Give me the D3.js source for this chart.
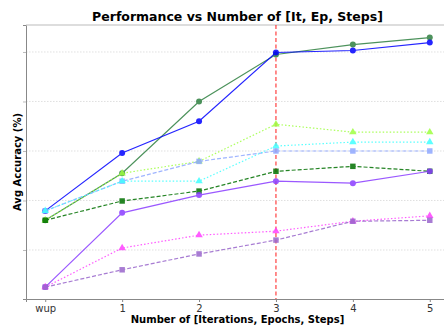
<!DOCTYPE html>
<html>
<head>
  <meta charset="utf-8">
  <script src="https://cdn.jsdelivr.net/npm/d3@7"></script>
  <style>
    body { margin: 0; background: #fff; }
    text { font-family: "DejaVu Sans", sans-serif; }
  </style>
</head>
<body>
<script>
// x categories
const steps = ["wup", "1", "2", "3", "4", "5"];

// series values (avg accuracy)
const blueSolid     = [37.9, 49.6, 56.0, 69.9, 70.3, 71.9];
const greenSolid    = [36.0, 45.5, 60.0, 69.5, 71.5, 72.9];
const limeDotted    = [36.0, 45.5, 47.9, 55.4, 53.8, 53.8];
const cornflowerDsh = [37.9, 43.9, 47.9, 50.0, 50.0, 50.0];
const cyanDotted    = [37.9, 43.9, 43.9, 51.0, 51.8, 51.8];
const darkGreenDsh  = [36.0, 39.9, 41.9, 45.9, 46.9, 45.9];
const purpleSolid   = [22.5, 37.5, 41.1, 43.9, 43.5, 45.9];
const magentaDotted = [22.5, 30.4, 33.0, 33.8, 35.8, 36.9];
const mpurpleDsh    = [22.5, 26.0, 29.2, 32.0, 35.8, 36.0];

const gridValues = [30, 40, 50, 60, 70];

const series = [
  { values: greenSolid,    color: "#2e8040", dash: null,    marker: "circle" },
  { values: blueSolid,     color: "#0000ff", dash: null,    marker: "circle" },
  { values: limeDotted,    color: "#9eff40", dash: "1.5,2", marker: "triangle" },
  { values: cornflowerDsh, color: "#8fa8ff", dash: "4,2",   marker: "square" },
  { values: cyanDotted,    color: "#40ffff", dash: "1.5,2", marker: "triangle" },
  { values: darkGreenDsh,  color: "#007000", dash: "4,2",   marker: "square" },
  { values: purpleSolid,   color: "#8a3cff", dash: null,    marker: "circle" },
  { values: magentaDotted, color: "#ff40ff", dash: "1.5,2", marker: "triangle" },
  { values: mpurpleDsh,    color: "#9966cc", dash: "4,2",   marker: "square" }
];

const W = 444, H = 325;
const m = { left: 26, top: 25, right: 449, bottom: 299 };

const svg = d3.select("body").append("svg")
  .attr("width", W).attr("height", H);

const x = d3.scaleLinear().domain([-0.25, 5.25]).range([m.left, m.right]);
const y = d3.scaleLinear().domain([20.1, 75.45]).range([m.bottom, m.top]);

// grid
svg.append("g").selectAll("line")
  .data(gridValues).enter().append("line")
  .attr("x1", m.left).attr("x2", m.right)
  .attr("y1", d => y(d)).attr("y2", d => y(d))
  .attr("stroke", "#d8d8d8").attr("stroke-width", 0.8)
  .attr("stroke-dasharray", "1.5,1.5");

// y ticks, no labels
const yAxis = svg.append("g")
  .attr("transform", "translate(" + m.left + ",0)")
  .call(d3.axisLeft(y).tickValues(gridValues).tickSize(3).tickFormat(""));
yAxis.select(".domain").attr("stroke", "#888");
yAxis.selectAll(".tick line").attr("stroke", "#bbb");

// x axis
const xAxis = svg.append("g")
  .attr("transform", "translate(0," + m.bottom + ")")
  .call(d3.axisBottom(x).tickValues(d3.range(steps.length)).tickSize(3)
    .tickFormat(i => steps[i]));
xAxis.select(".domain").attr("stroke", "#888");
xAxis.selectAll(".tick line").attr("stroke", "#888");
xAxis.selectAll(".tick text")
  .attr("font-size", 10).attr("fill", "#333").attr("font-family", "DejaVu Sans");

// top spine
svg.append("line")
  .attr("x1", m.left).attr("x2", m.right)
  .attr("y1", m.top).attr("y2", m.top)
  .attr("stroke", "#bbb").attr("stroke-width", 1);

// red vertical line at step 3
svg.append("line")
  .attr("x1", x(3)).attr("x2", x(3))
  .attr("y1", m.top).attr("y2", m.bottom)
  .attr("stroke", "#ff1a1a").attr("stroke-width", 1)
  .attr("stroke-dasharray", "4,2.5");

const line = d3.line().x((d, i) => x(i)).y(d => y(d));

series.forEach(s => {
  const g = svg.append("g").attr("opacity", 0.85);
  g.append("path")
    .attr("d", line(s.values))
    .attr("fill", "none")
    .attr("stroke", s.color)
    .attr("stroke-width", 1.2)
    .attr("stroke-dasharray", s.dash);
  const pts = g.selectAll(".pt").data(s.values).enter();
  if (s.marker === "circle") {
    pts.append("circle")
      .attr("cx", (d, i) => x(i)).attr("cy", d => y(d))
      .attr("r", 3).attr("fill", s.color);
  } else {
    const sym = s.marker === "square" ? d3.symbolSquare : d3.symbolTriangle;
    const size = s.marker === "square" ? 30 : 24;
    pts.append("path")
      .attr("transform", (d, i) => "translate(" + x(i) + "," + y(d) + ")")
      .attr("d", d3.symbol().type(sym).size(size))
      .attr("fill", s.color);
  }
});

// title and labels
svg.append("text")
  .attr("x", (m.left + m.right) / 2).attr("y", 21)
  .attr("text-anchor", "middle").attr("font-size", 12.5).attr("font-weight", "bold")
  .text("Performance vs Number of [It, Ep, Steps]");

svg.append("text")
  .attr("x", (m.left + m.right) / 2).attr("y", 323)
  .attr("text-anchor", "middle").attr("font-size", 10).attr("font-weight", "bold")
  .text("Number of [Iterations, Epochs, Steps]");

svg.append("text")
  .attr("transform", "translate(21," + ((m.top + m.bottom) / 2) + ") rotate(-90)")
  .attr("text-anchor", "middle").attr("font-size", 10).attr("font-weight", "bold")
  .text("Avg Accuracy (%)");
</script>
</body>
</html>
